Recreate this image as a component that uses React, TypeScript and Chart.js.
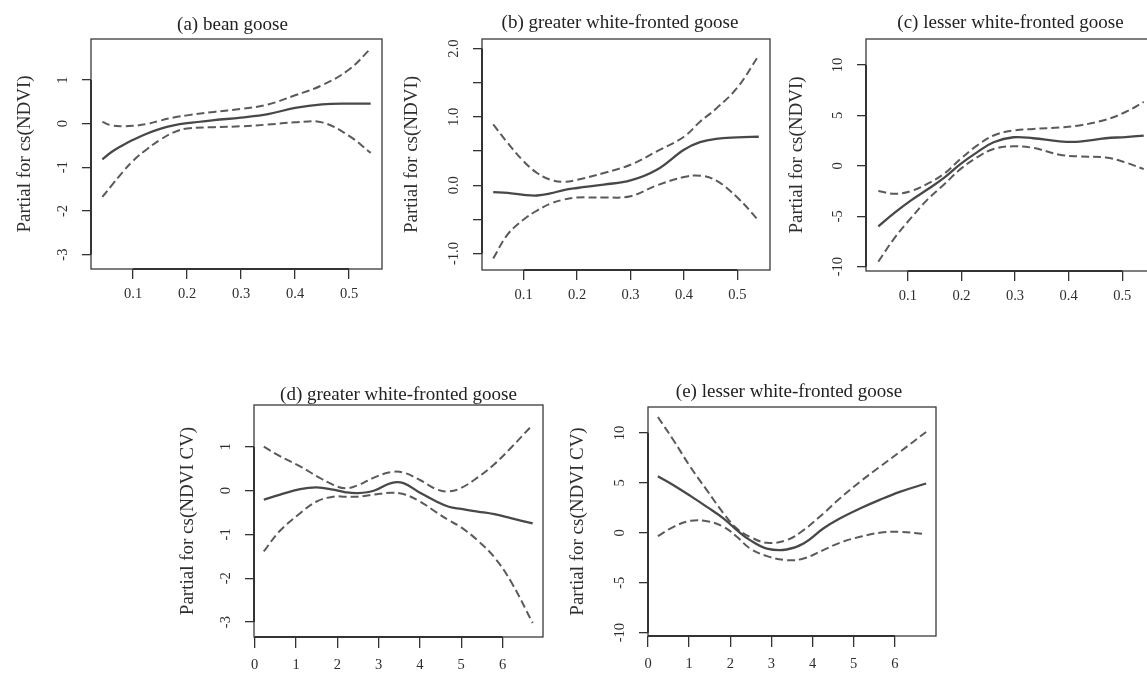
import React, { useEffect, useRef } from 'react';
import { Chart, registerables } from 'chart.js';

Chart.register(...registerables);

const FONT = '"Liberation Serif", "Times New Roman", serif';

// ---------- shared tick values ----------
const ndviTicks = [0.1, 0.2, 0.3, 0.4, 0.5];
const cvTicks = [0, 1, 2, 3, 4, 5, 6];
const smallYTicks = [-3, -2, -1, 0, 1];
const halfYTicks = [-1, -0.5, 0, 0.5, 1, 1.5, 2];
const bigYTicks = [-10, -5, 0, 5, 10];

// ---------- (a) bean goose ----------
const aX = [0.043, 0.06, 0.08, 0.1, 0.125, 0.15, 0.175, 0.2, 0.25, 0.3, 0.35, 0.4, 0.45, 0.5, 0.54];
const aFit = [-0.82, -0.65, -0.5, -0.37, -0.23, -0.12, -0.04, 0.01, 0.08, 0.14, 0.22, 0.36, 0.44, 0.46, 0.46];
const aUpper = [0.04, -0.04, -0.06, -0.05, -0.01, 0.07, 0.14, 0.19, 0.27, 0.34, 0.44, 0.65, 0.88, 1.24, 1.72];
const aLower = [-1.68, -1.42, -1.12, -0.85, -0.59, -0.37, -0.2, -0.11, -0.08, -0.06, -0.02, 0.03, 0.03, -0.28, -0.67];

// ---------- (b) greater white-fronted goose, NDVI ----------
const bX = [0.043, 0.07, 0.1, 0.125, 0.15, 0.175, 0.2, 0.25, 0.3, 0.35, 0.4, 0.43, 0.46, 0.5, 0.54];
const bFit = [-0.1, -0.11, -0.14, -0.15, -0.12, -0.07, -0.04, 0.01, 0.07, 0.23, 0.52, 0.63, 0.68, 0.7, 0.71];
const bUpper = [0.89, 0.62, 0.35, 0.18, 0.08, 0.05, 0.08, 0.18, 0.3, 0.5, 0.71, 0.93, 1.12, 1.43, 1.9];
const bLower = [-1.07, -0.72, -0.5, -0.37, -0.27, -0.21, -0.18, -0.18, -0.16, 0.0, 0.12, 0.14, 0.07, -0.18, -0.52];

// ---------- (c) lesser white-fronted goose, NDVI ----------
const cX = [0.045, 0.075, 0.106, 0.137, 0.168, 0.198, 0.229, 0.26, 0.297, 0.334, 0.383, 0.42, 0.469, 0.506, 0.54];
const cFit = [-6.0, -4.67, -3.43, -2.33, -1.17, 0.17, 1.33, 2.33, 2.83, 2.73, 2.43, 2.4, 2.73, 2.85, 3.0];
const cUpper = [-2.5, -2.77, -2.5, -1.77, -0.77, 0.67, 2.0, 3.0, 3.5, 3.65, 3.8, 4.0, 4.57, 5.33, 6.33];
const cLower = [-9.5, -7.17, -5.17, -3.33, -1.83, -0.33, 0.83, 1.67, 1.93, 1.77, 1.1, 0.93, 0.83, 0.33, -0.33];

// ---------- (d) greater white-fronted goose, NDVI CV ----------
const dX = [0.22, 0.6, 1.1, 1.5, 1.9, 2.2, 2.5, 2.9, 3.3, 3.6, 4.0, 4.4, 4.7, 5.0, 5.4, 5.8, 6.2, 6.73];
const dFit = [-0.21, -0.1, 0.03, 0.07, 0.02, -0.04, -0.06, 0.0, 0.17, 0.17, -0.05, -0.25, -0.37, -0.42, -0.48, -0.54, -0.63, -0.75];
const dUpper = [1.0, 0.79, 0.55, 0.33, 0.13, 0.05, 0.12, 0.3, 0.42, 0.41, 0.24, 0.03, -0.02, 0.06, 0.3, 0.6, 0.97, 1.5];
const dLower = [-1.39, -0.93, -0.52, -0.25, -0.14, -0.14, -0.14, -0.09, -0.05, -0.08, -0.25, -0.5, -0.68, -0.84, -1.14, -1.52, -2.07, -3.02];

// ---------- (e) lesser white-fronted goose, NDVI CV ----------
const eX = [0.24, 0.62, 1.03, 1.43, 1.84, 2.16, 2.48, 2.89, 3.37, 3.78, 4.26, 4.66, 5.15, 5.63, 6.12, 6.76];
const eFit = [5.67, 4.77, 3.7, 2.6, 1.43, 0.27, -0.73, -1.57, -1.67, -1.07, 0.43, 1.43, 2.43, 3.3, 4.1, 4.94];
const eUpper = [11.6, 9.27, 6.6, 4.27, 1.93, 0.43, -0.4, -1.0, -0.73, 0.27, 1.93, 3.43, 5.1, 6.6, 8.1, 10.1];
const eLower = [-0.33, 0.6, 1.2, 1.17, 0.6, -0.4, -1.57, -2.33, -2.73, -2.57, -1.73, -1.0, -0.4, 0.0, 0.1, -0.13];

type Box = { l: number; t: number; r: number; b: number };
type PanelCfg = {
  title: string;
  yTitle: string;
  box: Box;
  x: number[];
  fit: number[];
  upper: number[];
  lower: number[];
  xMin: number;
  xMax: number;
  yMin: number;
  yMax: number;
  xTicks: number[];
  yTicks: number[];
  xFmt: (v: number) => string;
  yFmt: (v: number) => string;
  titleDx: number;
  titleDy: number;
  yTitleOff: number;
  xTickLen: number;
  xTickPad: number;
};

const fmt1 = (v: number) => v.toFixed(1);
const fmtInt = (v: number) => String(v);
const fmtHalf = (v: number) => (Number.isInteger(v) ? v.toFixed(1) : '');

const panels: PanelCfg[] = [
  {
    title: '(a) bean goose', yTitle: 'Partial for cs(NDVI)',
    box: { l: 91, t: 39, r: 382, b: 269 },
    x: aX, fit: aFit, upper: aUpper, lower: aLower,
    xMin: 0.022, xMax: 0.561, yMin: -3.33, yMax: 1.94,
    xTicks: ndviTicks, yTicks: smallYTicks, xFmt: fmt1, yFmt: fmtInt,
    titleDx: -4, titleDy: -14, yTitleOff: -66, xTickLen: 10, xTickPad: 6,
  },
  {
    title: '(b) greater white-fronted goose', yTitle: 'Partial for cs(NDVI)',
    box: { l: 482, t: 39, r: 770, b: 270 },
    x: bX, fit: bFit, upper: bUpper, lower: bLower,
    xMin: 0.022, xMax: 0.561, yMin: -1.24, yMax: 2.14,
    xTicks: ndviTicks, yTicks: halfYTicks, xFmt: fmt1, yFmt: fmtHalf,
    titleDx: -6, titleDy: -16, yTitleOff: -70, xTickLen: 10, xTickPad: 6,
  },
  {
    title: '(c) lesser white-fronted goose', yTitle: 'Partial for cs(NDVI)',
    box: { l: 866, t: 39, r: 1155, b: 271 },
    x: cX, fit: cFit, upper: cUpper, lower: cLower,
    xMin: 0.022, xMax: 0.561, yMin: -10.43, yMax: 12.57,
    xTicks: ndviTicks, yTicks: bigYTicks, xFmt: fmt1, yFmt: fmtInt,
    titleDx: 0, titleDy: -16, yTitleOff: -69, xTickLen: 10, xTickPad: 6,
  },
  {
    title: '(d) greater white-fronted goose', yTitle: 'Partial for cs(NDVI CV)',
    box: { l: 254, t: 405, r: 543, b: 637 },
    x: dX, fit: dFit, upper: dUpper, lower: dLower,
    xMin: -0.017, xMax: 6.98, yMin: -3.34, yMax: 1.95,
    xTicks: cvTicks, yTicks: smallYTicks, xFmt: fmtInt, yFmt: fmtInt,
    titleDx: 0, titleDy: -10, yTitleOff: -66, xTickLen: 11, xTickPad: 8,
  },
  {
    title: '(e) lesser white-fronted goose', yTitle: 'Partial for cs(NDVI CV)',
    box: { l: 648, t: 407, r: 936, b: 636 },
    x: eX, fit: eFit, upper: eUpper, lower: eLower,
    xMin: 0, xMax: 7.0, yMin: -10.33, yMax: 12.6,
    xTicks: cvTicks, yTicks: bigYTicks, xFmt: fmtInt, yFmt: fmtInt,
    titleDx: -3, titleDy: -15, yTitleOff: -70, xTickLen: 11, xTickPad: 8,
  },
];

const PADL = 95;
const PADT = 45;
const PADR = 15;
const PADB = 40;
const INK = '#2e2e2e';

const rStylePlugin = {
  id: 'rstyle',
  afterDraw(chart: any, _args: any, opts: any) {
    const { ctx, chartArea: ca, scales } = chart;
    const xs = scales.x;
    const ys = scales.y;
    ctx.save();
    // plot box
    ctx.strokeStyle = '#3a3a3a';
    ctx.lineWidth = 1.3;
    ctx.strokeRect(ca.left, ca.top, ca.right - ca.left, ca.bottom - ca.top);
    // R-style axis lines from first to last tick
    ctx.lineWidth = 2;
    ctx.strokeStyle = '#333';
    const xt: number[] = opts.xTicks;
    const yt: number[] = opts.yTicks;
    ctx.beginPath();
    ctx.moveTo(xs.getPixelForValue(xt[0]), ca.bottom);
    ctx.lineTo(xs.getPixelForValue(xt[xt.length - 1]), ca.bottom);
    ctx.stroke();
    ctx.beginPath();
    ctx.moveTo(ca.left, ys.getPixelForValue(yt[0]));
    ctx.lineTo(ca.left, ys.getPixelForValue(yt[yt.length - 1]));
    ctx.stroke();
    // y tick labels, rotated like R (las = 0)
    ctx.fillStyle = INK;
    ctx.font = `14.5px ${FONT}`;
    ctx.textAlign = 'center';
    ctx.textBaseline = 'middle';
    for (const t of ys.ticks) {
      if (!t.label) continue;
      ctx.save();
      ctx.translate(ca.left - 28, ys.getPixelForValue(t.value));
      ctx.rotate(-Math.PI / 2);
      ctx.fillText(String(t.label), 0, 0);
      ctx.restore();
    }
    // panel title
    ctx.font = `19px ${FONT}`;
    ctx.fillStyle = '#222';
    ctx.fillText(opts.title, (ca.left + ca.right) / 2 + opts.titleDx, ca.top + opts.titleDy);
    ctx.restore();
  },
};

function Panel({ cfg }: { cfg: PanelCfg }) {
  const ref = useRef<HTMLCanvasElement>(null);
  const w = cfg.box.r - cfg.box.l + PADL + PADR;
  const h = cfg.box.b - cfg.box.t + PADT + PADB;

  useEffect(() => {
    if (!ref.current) return;
    const pts = (ys: number[]) => cfg.x.map((xv, i) => ({ x: xv, y: ys[i] }));
    const dashed = {
      borderColor: '#5a5a5a',
      borderWidth: 2,
      borderDash: [8, 4],
      pointRadius: 0,
      tension: 0.4,
      fill: false,
    };
    const chart = new Chart(ref.current, {
      type: 'line',
      data: {
        datasets: [
          { data: pts(cfg.fit), borderColor: '#484848', borderWidth: 2.3, pointRadius: 0, tension: 0.4, fill: false },
          { data: pts(cfg.upper), ...dashed },
          { data: pts(cfg.lower), ...dashed },
        ],
      },
      options: {
        animation: false,
        responsive: false,
        devicePixelRatio: 1,
        layout: { padding: { left: 0, top: PADT, right: PADR, bottom: 0 } },
        plugins: {
          legend: { display: false },
          tooltip: { enabled: false },
          title: { display: false },
          rstyle: {
            title: cfg.title,
            titleDx: cfg.titleDx,
            titleDy: cfg.titleDy,
            xTicks: cfg.xTicks,
            yTicks: cfg.yTicks,
          },
        } as any,
        scales: {
          x: {
            type: 'linear',
            position: 'bottom',
            min: cfg.xMin,
            max: cfg.xMax,
            afterFit: (s: any) => { s.height = PADB; },
            afterBuildTicks: (s: any) => { s.ticks = cfg.xTicks.map((v) => ({ value: v })); },
            ticks: {
              autoSkip: false,
              maxRotation: 0,
              minRotation: 0,
              padding: cfg.xTickPad,
              color: INK,
              font: { family: FONT, size: 14.5 },
              callback: (v: any) => cfg.xFmt(Number(v)),
            },
            grid: {
              display: true,
              drawOnChartArea: false,
              drawTicks: true,
              tickLength: cfg.xTickLen,
              color: '#333',
              lineWidth: 1.3,
            },
            border: { display: false },
          },
          y: {
            type: 'linear',
            position: 'left',
            min: cfg.yMin,
            max: cfg.yMax,
            afterFit: (s: any) => { s.width = PADL; },
            afterBuildTicks: (s: any) => { s.ticks = cfg.yTicks.map((v) => ({ value: v })); },
            ticks: {
              display: false,
              autoSkip: false,
              callback: (v: any) => cfg.yFmt(Number(v)),
            },
            grid: {
              display: true,
              drawOnChartArea: false,
              drawTicks: true,
              tickLength: 9,
              color: '#333',
              lineWidth: 1.3,
            },
            border: { display: false },
            title: {
              display: true,
              text: cfg.yTitle,
              color: INK,
              font: { family: FONT, size: 19 },
              padding: { top: PADL + cfg.yTitleOff - 11.4, bottom: 0 },
            },
          },
        },
      } as any,
      plugins: [rStylePlugin as any],
    });
    return () => chart.destroy();
  }, []);

  return (
    <canvas
      ref={ref}
      width={w}
      height={h}
      style={{
        position: 'absolute',
        left: cfg.box.l - PADL,
        top: cfg.box.t - PADT,
        width: w,
        height: h,
      }}
    />
  );
}

export default function App() {
  return (
    <div
      style={{
        position: 'fixed',
        left: 0,
        top: 0,
        width: 1147,
        height: 675,
        overflow: 'hidden',
        background: '#ffffff',
      }}
    >
      {panels.map((p, i) => (
        <Panel key={i} cfg={p} />
      ))}
    </div>
  );
}
